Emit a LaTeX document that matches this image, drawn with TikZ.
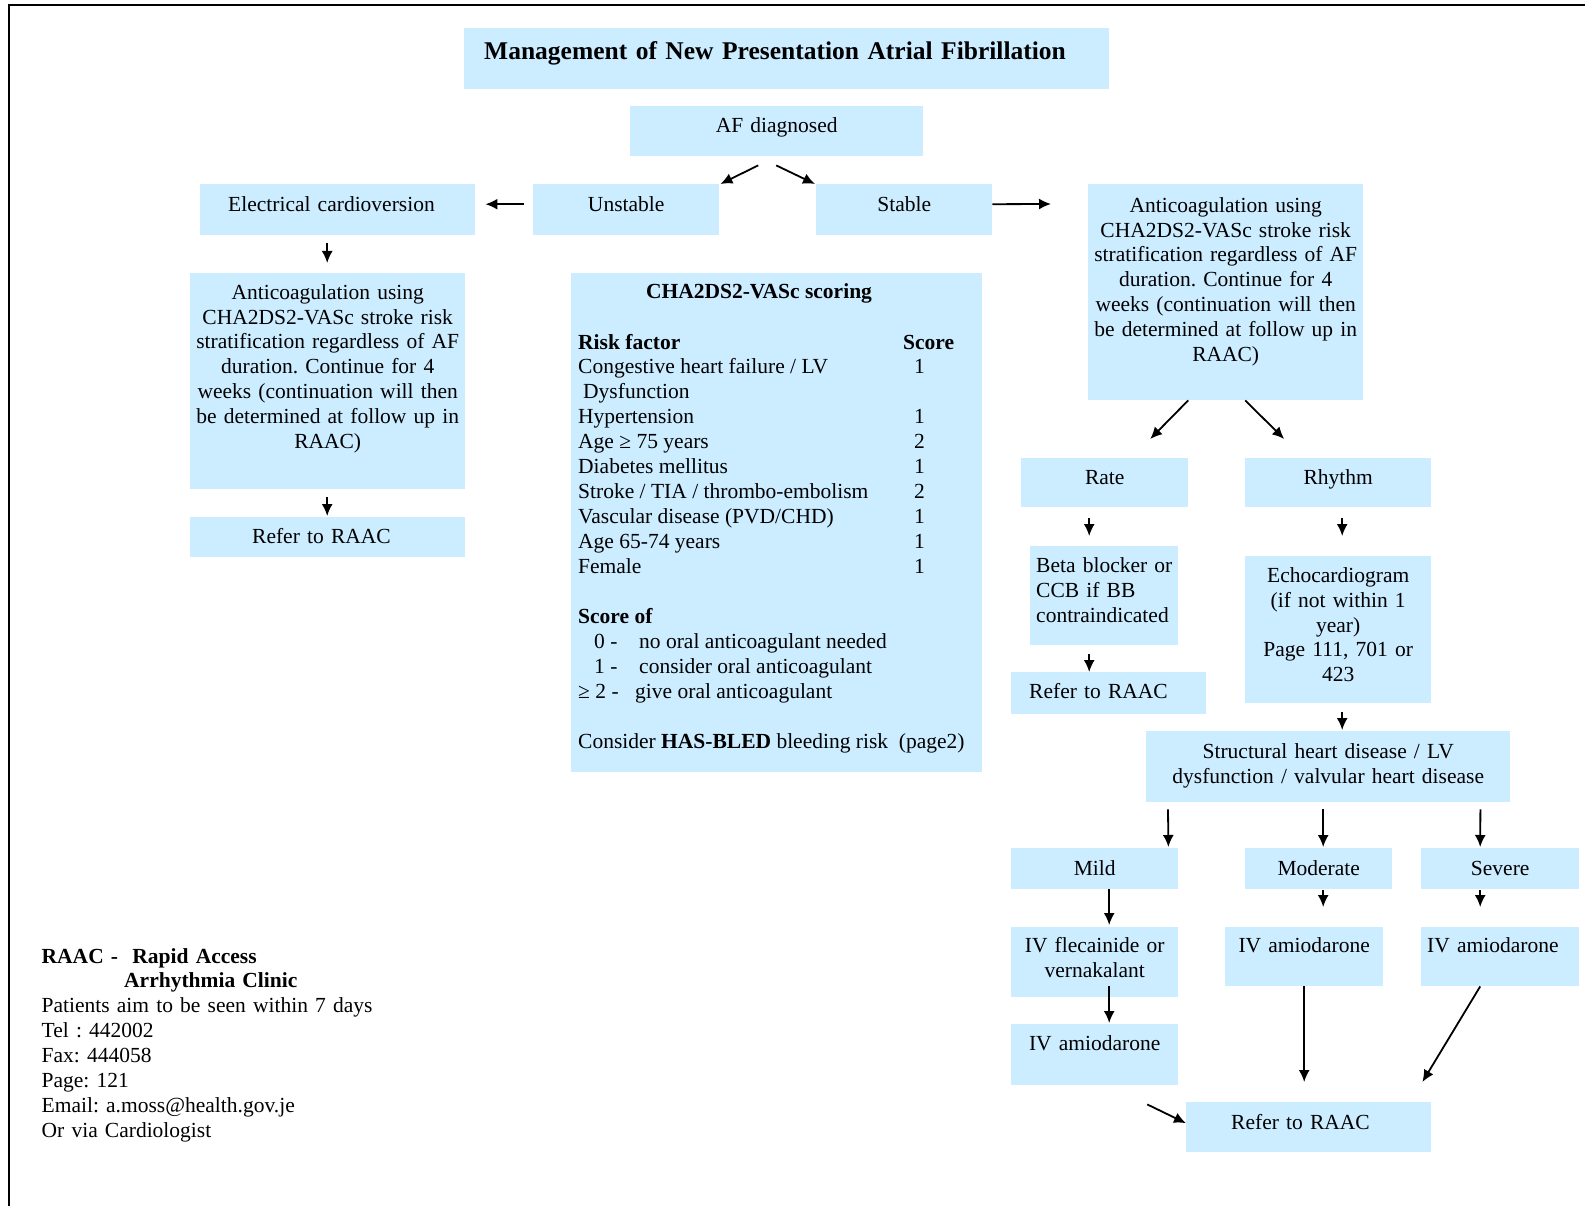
\documentclass[tikz,border=0pt]{standalone}
\usepackage{fontspec}
\setmainfont{Liberation Serif}
\usetikzlibrary{arrows.meta}
\definecolor{boxblue}{RGB}{204,236,255}
\newcommand{\bodyfont}{\frenchspacing\fontsize{21.5}{24.9}\selectfont}

\tikzset{
  box/.style={fill=boxblue, anchor=north west, inner ysep=0pt, inner xsep=0pt, align=center},
  padbox/.style={box, align=left},
  cell/.style={anchor=base west, inner sep=0pt},
  arr/.style={-{Latex[length=12pt,width=11pt]}, line width=1.8pt},
}

\begin{document}
\begin{tikzpicture}[x=1pt, y=-1pt, font=\bodyfont]
\useasboundingbox (0,0) rectangle (1585,1206);
\draw[line width=2.5pt] (9,1206) |- (1585,5);

% title and first split
\node[padbox, inner xsep=20pt, text width=605pt, text height=31.5pt, text depth=29.5pt, font=\bfseries\fontsize{25.5}{30}\selectfont] (title) at (464,28) {Management of New Presentation Atrial Fibrillation};
\node[box, text width=293pt, text height=26pt, text depth=24pt] (afdiag) at (630,106) {AF diagnosed};
\node[box, text width=186pt, text height=27pt, text depth=24pt] (unstable) at (533,184) {Unstable};
\node[box, text width=176pt, text height=27pt, text depth=24pt] (stable) at (816,184) {Stable};

% unstable branch
\node[padbox, inner xsep=28pt, text width=219pt, text height=27pt, text depth=24pt] (elec) at (200,184) {Electrical cardioversion};
\node[box, text width=275pt, text height=26pt, text depth=190pt] (leftanti) at (190,273) {Anticoagulation using\\CHA2DS2-VASc stroke risk\\stratification regardless of AF\\duration. Continue for 4\\weeks (continuation will then\\be determined at follow up in\\RAAC)};
\node[padbox, inner xsep=62pt, text width=151pt, text height=26pt, text depth=14pt] (leftrefer) at (190,517) {Refer to RAAC};

% scoring table
\node[box, minimum width=411pt, minimum height=499pt] (cha) at (571,273) {};
\node[anchor=base, inner sep=0pt, font=\bodyfont\bfseries] (chahead) at (759,299) {CHA2DS2-VASc scoring};
\node[cell, font=\bodyfont\bfseries] (riskhead) at (578,349) {Risk factor};
\node[cell, font=\bodyfont\bfseries] (scorehead) at (903,349) {Score};
\foreach \yy/\risk/\pts in {373/{Congestive heart failure / LV}/1, 423/Hypertension/1, 448/{Age ≥ 75 years}/2, 473/Diabetes mellitus/1, 498/{Stroke / TIA / thrombo-embolism}/2, 523/{Vascular disease (PVD/CHD)}/1, 548/Age 65-74 years/1, 573/Female/1} {
  \node[cell] (risk-\yy) at (578,\yy) {\risk};
  \node[cell] (pts-\yy) at (914,\yy) {\pts};
}
\node[cell] (dysf) at (583,398) {Dysfunction};
\node[cell, font=\bodyfont\bfseries] (scoreof) at (578,623) {Score of};
\node[cell] (s0) at (594,648) {0 -};
\node[cell] (s0txt) at (639,648) {no oral anticoagulant needed};
\node[cell] (s1) at (594,673) {1 -};
\node[cell] (s1txt) at (639,673) {consider oral anticoagulant};
\node[cell] (s2) at (578,698) {≥ 2 -};
\node[cell] (s2txt) at (635,698) {give oral anticoagulant};
\node[cell] (hasbled) at (578,748) {Consider \textbf{HAS-BLED} bleeding risk~ (page2)};

% stable branch
\node[box, text width=275pt, text height=28pt, text depth=188pt] (rightanti) at (1088,184) {Anticoagulation using\\CHA2DS2-VASc stroke risk\\stratification regardless of AF\\duration. Continue for 4\\weeks (continuation will then\\be determined at follow up in\\RAAC)};
\node[box, text width=167pt, text height=26pt, text depth=23pt] (rate) at (1021,458) {Rate};
\node[box, text width=186pt, text height=26pt, text depth=23pt] (rhythm) at (1245,458) {Rhythm};
\node[padbox, inner xsep=6pt, text width=136pt, text height=26pt, text depth=73pt] (beta) at (1030,546) {Beta~blocker~or\\CCB if BB\\contraindicated};
\node[padbox, inner xsep=18pt, text width=159pt, text height=26pt, text depth=16pt] (midrefer) at (1011,672) {Refer to RAAC};
\node[box, text width=186pt, text height=26pt, text depth=121pt] (echo) at (1245,556) {Echocardiogram\\(if not within 1\\year)\\Page 111, 701 or\\423};
\node[box, text width=364pt, text height=27pt, text depth=44pt] (struct) at (1146,731) {Structural heart disease / LV\\dysfunction / valvular heart disease};
\node[box, text width=167pt, text height=27pt, text depth=14pt] (mild) at (1011,848) {Mild};
\node[box, text width=147pt, text height=27pt, text depth=14pt] (moderate) at (1245,848) {Moderate};
\node[box, text width=158pt, text height=27pt, text depth=14pt] (severe) at (1421,848) {Severe};
\node[box, text width=167pt, text height=25pt, text depth=45pt] (ivflec) at (1011,927) {IV flecainide or\\vernakalant};
\node[box, text width=158pt, text height=25pt, text depth=34pt] (ivamod) at (1225,927) {IV amiodarone};
\node[padbox, inner xsep=6pt, text width=146pt, text height=25pt, text depth=34pt] (ivasev) at (1421,927) {IV amiodarone};
\node[box, text width=167pt, text height=26pt, text depth=35pt] (ivamild) at (1011,1024) {IV amiodarone};
\node[padbox, inner xsep=45pt, text width=155pt, text height=27pt, text depth=23pt] (botrefer) at (1186,1102) {Refer to RAAC};

% clinic details
\node[cell, text width=500pt, align=left] (raacinfo) at (41.5,963) {\textbf{RAAC -~ Rapid Access}\\\hspace*{82.5pt}\textbf{Arrhythmia Clinic}\\Patients aim to be seen within 7 days\\Tel : 442002\\Fax: 444058\\Page: 121\\Email: a.moss@health.gov.je\\Or via Cardiologist};

% arrows
\draw[arr] ([shift={(-18.5,9)}]afdiag.south) -- ([shift={(1,0)}]unstable.north east);
\draw[arr] ([shift={(-0.5,9)}]afdiag.south) -- ([shift={(-1,0)}]stable.north west);
\draw[arr] ([shift={(-9,-5.5)}]unstable.west) -- ([shift={(10,-5.5)}]elec.east);
\draw[arr] ([shift={(0,-5.5)}]stable.east) -- ([shift={(-37,20)}]rightanti.north west);
\draw[arr] ([shift={(-10.5,8)}]elec.south) -- ([shift={(-0.5,-10)}]leftanti.north);
\draw[arr] ([shift={(-0.5,8)}]leftanti.south) -- ([shift={(-0.5,-1)}]leftrefer.north);
\draw[arr] ([shift={(-37.5,0)}]rightanti.south) -- ([shift={(45.5,-19)}]rate.north);
\draw[arr] ([shift={(19.5,0)}]rightanti.south) -- ([shift={(-54,-19)}]rhythm.north);
\draw[arr] ([shift={(-15.5,11)}]rate.south) -- ([shift={(-15,-10)}]beta.north);
\draw[arr] ([shift={(-15,9)}]beta.south) -- ([shift={(-19.5,0)}]midrefer.north);
\draw[arr] ([shift={(4,11)}]rhythm.south) -- ([shift={(4,-20)}]echo.north);
\draw[arr] ([shift={(4,9)}]echo.south) -- ([shift={(14,-1)}]struct.north);
\draw[arr] ([shift={(22,7)}]struct.south west) -- ([shift={(-10,-1)}]mild.north east);
\draw[arr] ([shift={(-5,7)}]struct.south) -- ([shift={(4.5,-1)}]moderate.north);
\draw[arr] ([shift={(-30,7)}]struct.south east) -- ([shift={(-20,-1)}]severe.north);
\draw[arr] ([shift={(14.5,0)}]mild.south) -- ([shift={(14.5,-2)}]ivflec.north);
\draw[arr] ([shift={(4.5,1)}]moderate.south) -- ([shift={(19,-20)}]ivamod.north);
\draw[arr] ([shift={(-20,1)}]severe.south) -- ([shift={(-20,-20)}]ivasev.north);
\draw[arr] ([shift={(14.5,-11)}]ivflec.south) -- ([shift={(14.5,-1)}]ivamild.north);
\draw[arr] (ivamod.south) -- ([shift={(-4.5,-20)}]botrefer.north);
\draw[arr] ([shift={(-20,0)}]ivasev.south) -- ([shift={(-9,-20)}]botrefer.north east);
\draw[arr] ([shift={(52.5,19)}]ivamild.south) -- ([shift={(0,-4)}]botrefer.west);
\end{tikzpicture}
\end{document}
